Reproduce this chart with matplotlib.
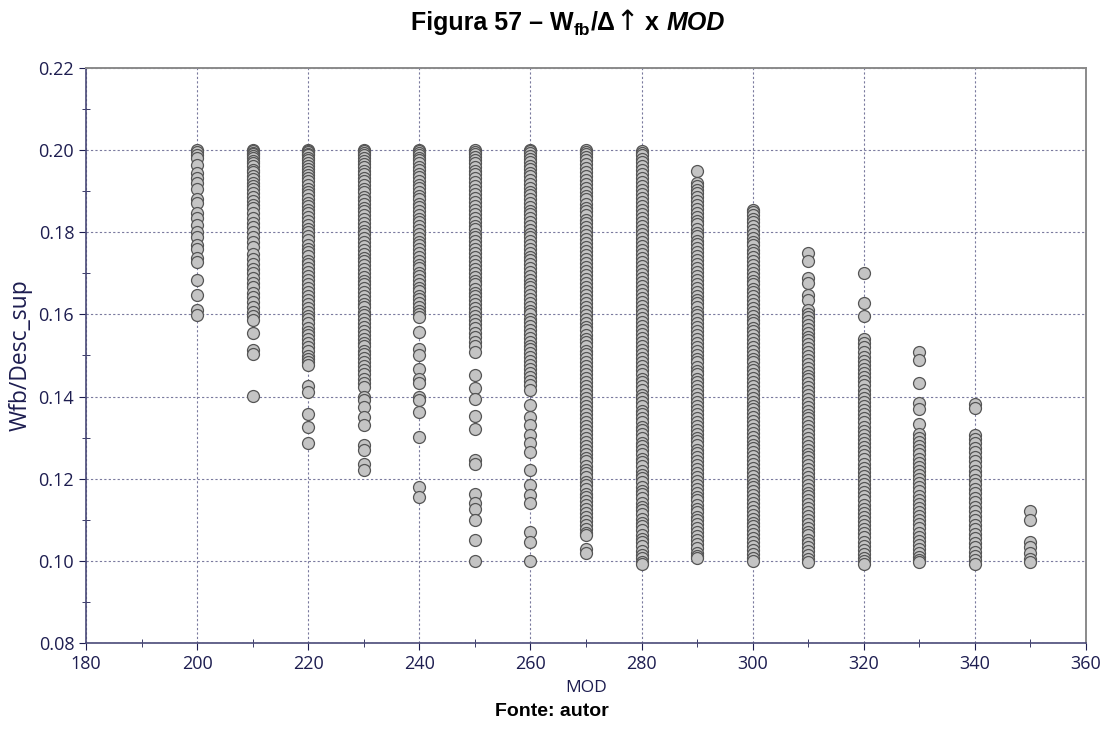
import matplotlib
matplotlib.use("Agg")
import matplotlib.pyplot as plt
from matplotlib.ticker import MultipleLocator, FormatStrFormatter

# MOD levels and the Wfb/Desc_sup values observed at each level
mod_levels = [200, 210, 220, 230, 240, 250, 260, 270, 280, 290, 300, 310, 320, 330, 340, 350]

wfb_200 = [0.2000, 0.1995, 0.1988, 0.1980, 0.1964, 0.1945, 0.1931, 0.1919, 0.1905, 0.1880,
           0.1872, 0.1846, 0.1835, 0.1818, 0.1800, 0.1789, 0.1769, 0.1760, 0.1738, 0.1728,
           0.1684, 0.1647, 0.1610, 0.1598]
wfb_210 = [0.2000, 0.1997, 0.1993, 0.1990, 0.1985, 0.1980, 0.1974, 0.1968, 0.1961, 0.1952,
           0.1946, 0.1937, 0.1930, 0.1921, 0.1913, 0.1905, 0.1895, 0.1887, 0.1876, 0.1866,
           0.1858, 0.1846, 0.1834, 0.1822, 0.1812, 0.1801, 0.1788, 0.1776, 0.1763, 0.1748,
           0.1735, 0.1724, 0.1711, 0.1700, 0.1688, 0.1676, 0.1666, 0.1653, 0.1642, 0.1630,
           0.1619, 0.1607, 0.1597, 0.1586, 0.1555, 0.1513, 0.1503, 0.1402]
wfb_220 = [0.2000, 0.1998, 0.1995, 0.1991, 0.1987, 0.1982, 0.1976, 0.1969, 0.1962, 0.1955,
           0.1947, 0.1940, 0.1931, 0.1924, 0.1915, 0.1906, 0.1899, 0.1890, 0.1881, 0.1872,
           0.1863, 0.1855, 0.1846, 0.1837, 0.1828, 0.1818, 0.1809, 0.1800, 0.1790, 0.1781,
           0.1770, 0.1760, 0.1751, 0.1742, 0.1731, 0.1722, 0.1712, 0.1703, 0.1693, 0.1684,
           0.1673, 0.1664, 0.1655, 0.1645, 0.1636, 0.1625, 0.1616, 0.1606, 0.1597, 0.1588,
           0.1578, 0.1567, 0.1558, 0.1549, 0.1539, 0.1530, 0.1520, 0.1511, 0.1500, 0.1491,
           0.1484, 0.1477, 0.1425, 0.1410, 0.1358, 0.1326, 0.1286]
wfb_230 = [0.2000, 0.1997, 0.1993, 0.1987, 0.1981, 0.1973, 0.1966, 0.1958, 0.1949, 0.1941,
           0.1932, 0.1924, 0.1914, 0.1905, 0.1897, 0.1887, 0.1878, 0.1869, 0.1860, 0.1851,
           0.1842, 0.1832, 0.1823, 0.1813, 0.1804, 0.1795, 0.1785, 0.1776, 0.1766, 0.1757,
           0.1748, 0.1738, 0.1729, 0.1720, 0.1711, 0.1701, 0.1692, 0.1682, 0.1673, 0.1664,
           0.1655, 0.1645, 0.1636, 0.1626, 0.1617, 0.1607, 0.1598, 0.1589, 0.1579, 0.1570,
           0.1560, 0.1551, 0.1541, 0.1531, 0.1522, 0.1512, 0.1503, 0.1494, 0.1484, 0.1474,
           0.1465, 0.1455, 0.1444, 0.1432, 0.1424, 0.1399, 0.1391, 0.1375, 0.1350, 0.1330,
           0.1282, 0.1270, 0.1237, 0.1221]
wfb_240 = [0.2000, 0.1997, 0.1993, 0.1988, 0.1982, 0.1975, 0.1968, 0.1960, 0.1951, 0.1943,
           0.1934, 0.1925, 0.1916, 0.1907, 0.1898, 0.1889, 0.1880, 0.1870, 0.1861, 0.1852,
           0.1843, 0.1833, 0.1824, 0.1815, 0.1805, 0.1796, 0.1787, 0.1777, 0.1768, 0.1759,
           0.1749, 0.1740, 0.1731, 0.1721, 0.1712, 0.1702, 0.1693, 0.1684, 0.1675, 0.1665,
           0.1656, 0.1646, 0.1637, 0.1627, 0.1618, 0.1608, 0.1600, 0.1594, 0.1558, 0.1517,
           0.1501, 0.1466, 0.1444, 0.1432, 0.1399, 0.1391, 0.1363, 0.1302, 0.1180, 0.1156]
wfb_250 = [0.2000, 0.1996, 0.1991, 0.1984, 0.1976, 0.1968, 0.1959, 0.1950, 0.1941, 0.1931,
           0.1922, 0.1912, 0.1903, 0.1893, 0.1884, 0.1874, 0.1864, 0.1855, 0.1845, 0.1836,
           0.1826, 0.1816, 0.1807, 0.1797, 0.1788, 0.1778, 0.1768, 0.1759, 0.1749, 0.1740,
           0.1730, 0.1721, 0.1711, 0.1701, 0.1692, 0.1682, 0.1673, 0.1663, 0.1653, 0.1644,
           0.1634, 0.1625, 0.1615, 0.1605, 0.1596, 0.1586, 0.1577, 0.1566, 0.1556, 0.1545,
           0.1534, 0.1522, 0.1509, 0.1452, 0.1420, 0.1393, 0.1352, 0.1322, 0.1245, 0.1237,
           0.1164, 0.1140, 0.1127, 0.1099, 0.1050, 0.1000]
wfb_260 = [0.2000, 0.1997, 0.1992, 0.1986, 0.1979, 0.1971, 0.1962, 0.1954, 0.1945, 0.1936,
           0.1927, 0.1918, 0.1909, 0.1899, 0.1890, 0.1881, 0.1872, 0.1862, 0.1853, 0.1844,
           0.1834, 0.1825, 0.1816, 0.1806, 0.1797, 0.1788, 0.1778, 0.1769, 0.1760, 0.1750,
           0.1741, 0.1732, 0.1722, 0.1713, 0.1703, 0.1694, 0.1685, 0.1675, 0.1666, 0.1656,
           0.1647, 0.1638, 0.1628, 0.1619, 0.1609, 0.1600, 0.1590, 0.1581, 0.1571, 0.1562,
           0.1553, 0.1543, 0.1534, 0.1524, 0.1515, 0.1505, 0.1496, 0.1486, 0.1477, 0.1467,
           0.1458, 0.1448, 0.1438, 0.1427, 0.1416, 0.1379, 0.1351, 0.1330, 0.1306, 0.1286,
           0.1265, 0.1221, 0.1184, 0.1160, 0.1140, 0.1070, 0.1046, 0.1000]
wfb_270 = [0.2000, 0.1996, 0.1990, 0.1983, 0.1975, 0.1966, 0.1957, 0.1947, 0.1938, 0.1928,
           0.1918, 0.1909, 0.1899, 0.1889, 0.1880, 0.1870, 0.1860, 0.1851, 0.1841, 0.1831,
           0.1822, 0.1812, 0.1802, 0.1793, 0.1783, 0.1773, 0.1764, 0.1754, 0.1744, 0.1735,
           0.1725, 0.1715, 0.1706, 0.1696, 0.1686, 0.1677, 0.1667, 0.1657, 0.1648, 0.1638,
           0.1628, 0.1619, 0.1609, 0.1599, 0.1590, 0.1580, 0.1570, 0.1561, 0.1551, 0.1541,
           0.1532, 0.1522, 0.1512, 0.1503, 0.1493, 0.1483, 0.1474, 0.1464, 0.1454, 0.1445,
           0.1435, 0.1425, 0.1416, 0.1406, 0.1396, 0.1387, 0.1377, 0.1367, 0.1358, 0.1348,
           0.1338, 0.1329, 0.1319, 0.1309, 0.1300, 0.1290, 0.1280, 0.1271, 0.1261, 0.1251,
           0.1242, 0.1232, 0.1222, 0.1213, 0.1203, 0.1193, 0.1184, 0.1174, 0.1164, 0.1155,
           0.1145, 0.1135, 0.1126, 0.1116, 0.1106, 0.1097, 0.1087, 0.1077, 0.1069, 0.1063,
           0.1030, 0.1018]
wfb_280 = [0.1998, 0.1993, 0.1987, 0.1979, 0.1970, 0.1961, 0.1951, 0.1942, 0.1932, 0.1922,
           0.1912, 0.1903, 0.1893, 0.1883, 0.1873, 0.1864, 0.1854, 0.1844, 0.1834, 0.1825,
           0.1815, 0.1805, 0.1795, 0.1786, 0.1776, 0.1766, 0.1756, 0.1747, 0.1737, 0.1727,
           0.1717, 0.1708, 0.1698, 0.1688, 0.1678, 0.1669, 0.1659, 0.1649, 0.1639, 0.1630,
           0.1620, 0.1610, 0.1600, 0.1591, 0.1581, 0.1571, 0.1561, 0.1552, 0.1542, 0.1532,
           0.1522, 0.1513, 0.1503, 0.1493, 0.1483, 0.1474, 0.1464, 0.1454, 0.1444, 0.1435,
           0.1425, 0.1415, 0.1405, 0.1396, 0.1386, 0.1376, 0.1366, 0.1357, 0.1347, 0.1337,
           0.1327, 0.1318, 0.1308, 0.1298, 0.1288, 0.1279, 0.1269, 0.1259, 0.1249, 0.1240,
           0.1230, 0.1220, 0.1210, 0.1201, 0.1191, 0.1181, 0.1171, 0.1162, 0.1152, 0.1142,
           0.1132, 0.1123, 0.1113, 0.1103, 0.1093, 0.1084, 0.1074, 0.1064, 0.1054, 0.1045,
           0.1035, 0.1025, 0.1015, 0.1006, 0.0998, 0.0993]
wfb_290 = [0.1950, 0.1919, 0.1912, 0.1904, 0.1895, 0.1886, 0.1876, 0.1867, 0.1857, 0.1847,
           0.1838, 0.1828, 0.1819, 0.1809, 0.1799, 0.1790, 0.1780, 0.1771, 0.1761, 0.1751,
           0.1742, 0.1732, 0.1723, 0.1713, 0.1703, 0.1694, 0.1684, 0.1675, 0.1665, 0.1655,
           0.1646, 0.1636, 0.1627, 0.1617, 0.1607, 0.1598, 0.1588, 0.1579, 0.1569, 0.1559,
           0.1550, 0.1540, 0.1531, 0.1521, 0.1511, 0.1502, 0.1492, 0.1483, 0.1473, 0.1463,
           0.1454, 0.1444, 0.1435, 0.1425, 0.1415, 0.1406, 0.1396, 0.1387, 0.1377, 0.1367,
           0.1358, 0.1348, 0.1339, 0.1329, 0.1319, 0.1310, 0.1300, 0.1291, 0.1281, 0.1271,
           0.1262, 0.1252, 0.1243, 0.1233, 0.1223, 0.1214, 0.1204, 0.1195, 0.1185, 0.1175,
           0.1166, 0.1156, 0.1147, 0.1137, 0.1127, 0.1118, 0.1108, 0.1099, 0.1089, 0.1079,
           0.1070, 0.1060, 0.1051, 0.1041, 0.1031, 0.1020, 0.1011, 0.1006]
wfb_300 = [0.1855, 0.1850, 0.1842, 0.1833, 0.1824, 0.1815, 0.1806, 0.1796, 0.1787, 0.1777,
           0.1768, 0.1758, 0.1749, 0.1739, 0.1730, 0.1720, 0.1711, 0.1701, 0.1692, 0.1682,
           0.1673, 0.1663, 0.1654, 0.1644, 0.1635, 0.1625, 0.1616, 0.1606, 0.1597, 0.1587,
           0.1578, 0.1568, 0.1559, 0.1549, 0.1540, 0.1530, 0.1521, 0.1511, 0.1502, 0.1492,
           0.1483, 0.1473, 0.1464, 0.1454, 0.1445, 0.1435, 0.1426, 0.1416, 0.1407, 0.1397,
           0.1388, 0.1378, 0.1369, 0.1359, 0.1350, 0.1340, 0.1331, 0.1321, 0.1312, 0.1302,
           0.1293, 0.1283, 0.1274, 0.1264, 0.1255, 0.1245, 0.1236, 0.1226, 0.1217, 0.1207,
           0.1198, 0.1188, 0.1179, 0.1169, 0.1160, 0.1150, 0.1141, 0.1131, 0.1122, 0.1112,
           0.1103, 0.1093, 0.1084, 0.1074, 0.1065, 0.1055, 0.1046, 0.1036, 0.1027, 0.1017,
           0.1008, 0.1000]
wfb_310 = [0.1750, 0.1730, 0.1688, 0.1676, 0.1647, 0.1635, 0.1610, 0.1602, 0.1593, 0.1584,
           0.1575, 0.1565, 0.1556, 0.1546, 0.1537, 0.1527, 0.1518, 0.1508, 0.1499, 0.1489,
           0.1480, 0.1470, 0.1461, 0.1451, 0.1442, 0.1432, 0.1423, 0.1413, 0.1404, 0.1394,
           0.1385, 0.1375, 0.1366, 0.1356, 0.1347, 0.1337, 0.1328, 0.1318, 0.1309, 0.1299,
           0.1290, 0.1280, 0.1271, 0.1261, 0.1252, 0.1242, 0.1233, 0.1223, 0.1214, 0.1204,
           0.1195, 0.1185, 0.1176, 0.1166, 0.1157, 0.1147, 0.1138, 0.1128, 0.1119, 0.1109,
           0.1100, 0.1090, 0.1081, 0.1071, 0.1062, 0.1052, 0.1043, 0.1033, 0.1024, 0.1014,
           0.1005, 0.0997]
wfb_320 = [0.1700, 0.1628, 0.1596, 0.1540, 0.1531, 0.1520, 0.1508, 0.1497, 0.1487, 0.1477,
           0.1467, 0.1457, 0.1447, 0.1437, 0.1427, 0.1417, 0.1407, 0.1397, 0.1387, 0.1377,
           0.1367, 0.1357, 0.1347, 0.1337, 0.1327, 0.1317, 0.1307, 0.1297, 0.1287, 0.1277,
           0.1267, 0.1257, 0.1247, 0.1237, 0.1227, 0.1217, 0.1207, 0.1197, 0.1187, 0.1177,
           0.1167, 0.1157, 0.1147, 0.1137, 0.1127, 0.1117, 0.1107, 0.1097, 0.1087, 0.1077,
           0.1067, 0.1057, 0.1047, 0.1037, 0.1027, 0.1017, 0.1008, 0.1000, 0.0993]
wfb_330 = [0.1509, 0.1489, 0.1433, 0.1385, 0.1369, 0.1333, 0.1310, 0.1298, 0.1290, 0.1280,
           0.1270, 0.1259, 0.1249, 0.1239, 0.1229, 0.1219, 0.1209, 0.1199, 0.1189, 0.1179,
           0.1169, 0.1159, 0.1149, 0.1139, 0.1129, 0.1119, 0.1109, 0.1099, 0.1089, 0.1079,
           0.1069, 0.1059, 0.1049, 0.1039, 0.1029, 0.1019, 0.1009, 0.1002, 0.0997]
wfb_340 = [0.1383, 0.1371, 0.1306, 0.1297, 0.1287, 0.1276, 0.1264, 0.1253, 0.1242, 0.1231,
           0.1220, 0.1209, 0.1198, 0.1187, 0.1176, 0.1165, 0.1154, 0.1143, 0.1132, 0.1121,
           0.1110, 0.1099, 0.1088, 0.1077, 0.1066, 0.1055, 0.1044, 0.1033, 0.1022, 0.1011,
           0.1002, 0.0993]
wfb_350 = [0.1121, 0.1099, 0.1046, 0.1034, 0.1018, 0.1005, 0.0997]

wfb_by_mod = [wfb_200, wfb_210, wfb_220, wfb_230, wfb_240, wfb_250, wfb_260, wfb_270,
              wfb_280, wfb_290, wfb_300, wfb_310, wfb_320, wfb_330, wfb_340, wfb_350]

x_ticks = [180, 200, 220, 240, 260, 280, 300, 320, 340, 360]
y_ticks = [0.08, 0.10, 0.12, 0.14, 0.16, 0.18, 0.20, 0.22]

NAVY = "#1d1d50"
GRID = "#7a7a9e"

fig = plt.figure(figsize=(11.04, 7.34), dpi=100)
ax = fig.add_axes([86 / 1104, 1 - 643 / 734, 1000 / 1104, 575 / 734])

for mod, values in zip(mod_levels, wfb_by_mod):
    ax.scatter([mod] * len(values), values, s=74, facecolor="#c4c4c4",
               edgecolor="#555555", linewidth=0.9, zorder=3)

ax.set_xlim(180, 360)
ax.set_ylim(0.08, 0.22)
ax.set_xticks(x_ticks)
ax.set_yticks(y_ticks)
ax.xaxis.set_minor_locator(MultipleLocator(10))
ax.yaxis.set_minor_locator(MultipleLocator(0.01))
ax.yaxis.set_major_formatter(FormatStrFormatter("%.2f"))

ax.grid(True, which="major", color=GRID, linestyle=(0, (2, 2)), linewidth=0.8, zorder=0)

ax.tick_params(which="major", direction="out", length=5, color=NAVY,
               labelcolor=NAVY, labelsize=13)
ax.tick_params(which="minor", direction="inout", length=6, color=NAVY)
for lab in ax.get_xticklabels() + ax.get_yticklabels():
    lab.set_family("Open Sans")

for side in ("left", "bottom"):
    ax.spines[side].set_color("#4a4a78")
    ax.spines[side].set_linewidth(1.2)
for side in ("top", "right"):
    ax.spines[side].set_color("#8a8a8a")
    ax.spines[side].set_linewidth(1.4)

ax.set_xlabel("MOD", family="Open Sans", fontsize=12.5, color=NAVY, labelpad=5)
ax.set_ylabel("Wfb/Desc_sup", family="Open Sans", fontsize=16.5, color=NAVY, labelpad=4)

# Title assembled from pieces: bold text, subscript "fb", arrow, italic "MOD"
fam = ["Liberation Sans", "DejaVu Sans"]
base_y = 734 - 30
pieces = [
    ("Figura 57 – W", dict(fontsize=18, fontweight="bold", family=fam), 0),
    ("fb", dict(fontsize=12.5, fontweight="bold", family=fam), -5),
    ("/Δ", dict(fontsize=18, fontweight="bold", family=fam), 0),
    ("↑", dict(fontsize=20, fontweight="normal", family=["DejaVu Sans"]), 0),
    (" x ", dict(fontsize=18, fontweight="bold", family=fam), 0),
    ("MOD", dict(fontsize=18, fontweight="bold", fontstyle="italic", family=fam), 0),
]
inv = fig.transFigure.inverted()
r = fig.canvas.get_renderer()
texts = []
cursor = 0.0
for s, kw, dy in pieces:
    t = fig.text(0, 0, s, va="baseline", ha="left", **kw)
    t.set_position(inv.transform((cursor, base_y + dy)))
    fig.canvas.draw()
    cursor = t.get_window_extent(r).x1
    texts.append((t, dy))
total_width = cursor
start = 568 - total_width / 2
for t, dy in texts:
    px, py = fig.transFigure.transform(t.get_position())
    t.set_position(inv.transform((px + start, py)))

fig.text(552 / 1104, 1 - 712 / 734, "Fonte: autor", fontsize=14, fontweight="bold",
         family=fam, ha="center", va="center")

fig.savefig("out.png", dpi=100)
